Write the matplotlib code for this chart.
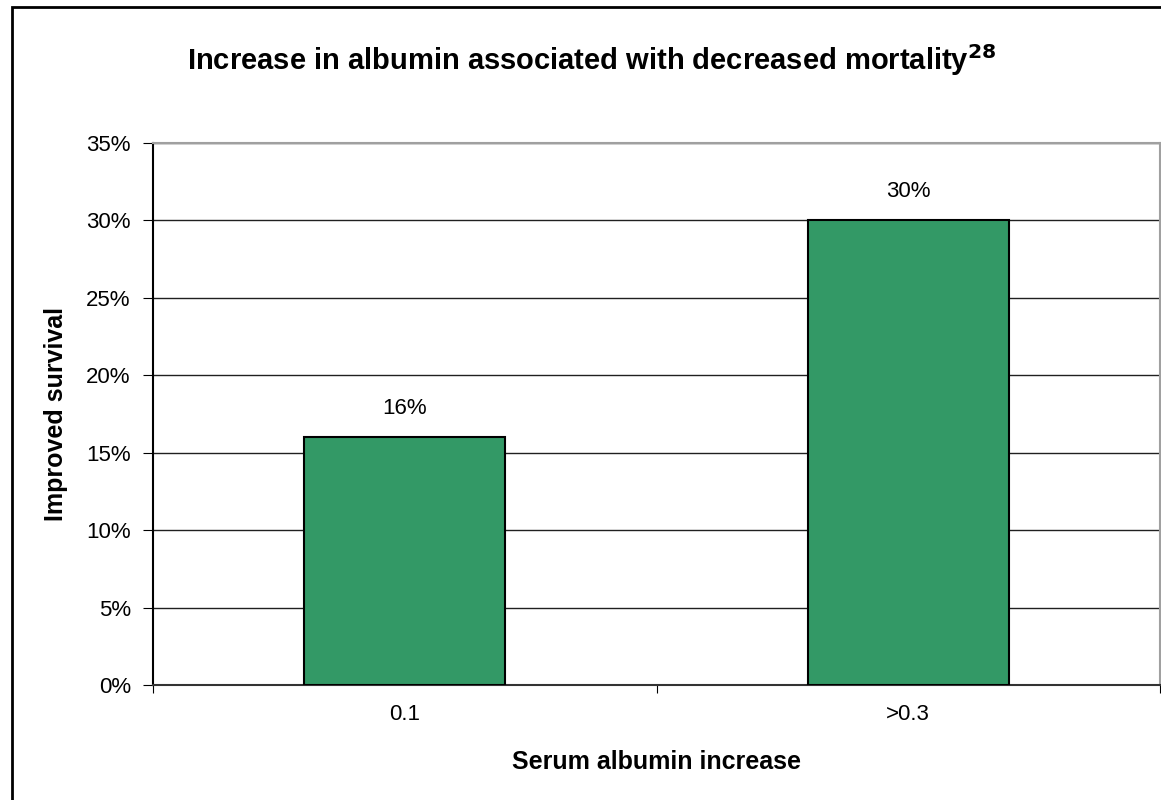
import matplotlib.pyplot as plt
from matplotlib.patches import Rectangle
from matplotlib.ticker import MultipleLocator, PercentFormatter

plt.rcParams['font.family'] = ['Liberation Sans', 'DejaVu Sans']

# Survival gain by albumin increase (g/dL)
categories = ['0.1', '>0.3']
survival = [16, 30]
bar_color = '#339966'

fig = plt.figure(figsize=(11.61, 8), dpi=100)

# chart frame around everything
fig.patches.append(Rectangle((12 / 1161, -0.1), 1.2, 1.1 - 7 / 800,
                             transform=fig.transFigure, fill=False,
                             edgecolor='black', linewidth=2, clip_on=False))

ax = fig.add_axes([153 / 1161, 1 - 685 / 800, (1160 - 153) / 1161, (685 - 143) / 800])

x = range(len(categories))
bars = ax.bar(x, survival, width=0.4, color=bar_color, edgecolor='black',
              linewidth=1.5, zorder=3)
for b, v in zip(bars, survival):
    ax.text(b.get_x() + b.get_width() / 2, v + 1.2, f'{v}%', ha='center',
            va='bottom', fontsize=16)

ax.set_xlim(-0.5, len(categories) - 0.5)
ax.set_ylim(0, 35)
ax.yaxis.set_major_locator(MultipleLocator(5))
ax.yaxis.set_major_formatter(PercentFormatter(decimals=0))
ax.grid(axis='y', color='#202020', linewidth=1, zorder=0)

# category ticks sit between the bars, labels centred under them
ax.set_xticks([i - 0.5 for i in range(len(categories) + 1)])
ax.set_xticklabels([])
ax.set_xticks(list(x), minor=True)
ax.set_xticklabels(categories, minor=True, fontsize=16)
ax.tick_params(axis='x', which='major', direction='out', length=6, color='black')
ax.tick_params(axis='x', which='minor', length=0, pad=14)
ax.tick_params(axis='y', direction='out', length=7, labelsize=16, pad=9)

for side in ['top', 'right']:
    ax.spines[side].set_color('#a0a0a0')
    ax.spines[side].set_linewidth(1.5)
ax.spines['left'].set_linewidth(1.5)
ax.spines['bottom'].set_linewidth(1.5)
ax.spines['bottom'].set_color('#333333')

ax.set_xlabel('Serum albumin increase', fontsize=18, fontweight='bold', labelpad=18)
ax.set_ylabel('Improved survival', fontsize=18, fontweight='bold', labelpad=13)

fig.text(0.51, 1 - 60 / 800, r'Increase in albumin associated with decreased mortality$^{\mathbf{28}}$',
         ha='center', va='center', fontsize=21, fontweight='bold')

fig.savefig('out.png', dpi=100)
